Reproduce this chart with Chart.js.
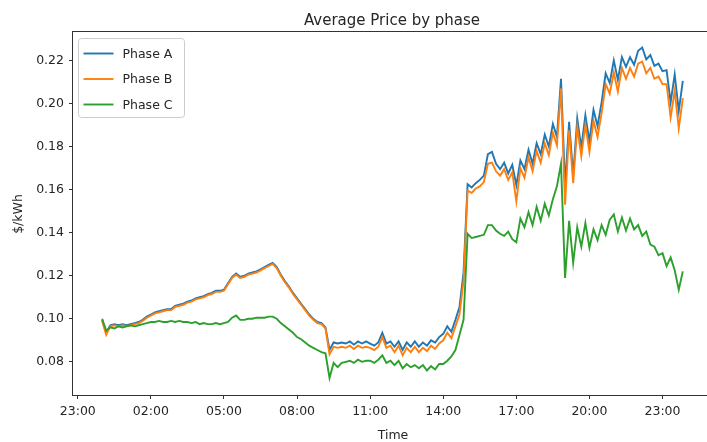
<!DOCTYPE html>
<html>
<head>
<meta charset="utf-8">
<script src="https://cdn.jsdelivr.net/npm/chart.js@4/dist/chart.umd.min.js"></script>
<style>
  html, body { margin: 0; padding: 0; background: #fff; overflow: hidden; width: 707px; height: 442px; }
  canvas { display: block; }
</style>
</head>
<body>
<canvas id="c" width="714" height="442"></canvas>
<script>
// Average price per phase, sampled every 10 minutes from 00:00 to 23:50 ($/kWh)
const STEP_MIN = 10;

const phaseA = [
  .0995, .0935, .097, .0975, .097, .0975,
  .097, .0975, .098, .0985, .0995, .101,
  .102, .103, .1035, .104, .1045, .1045,
  .106, .1065, .107, .108, .1085, .1095,
  .110, .1105, .1115, .112, .113, .113,
  .1135, .1165, .1195, .121, .1195, .120,
  .121, .1215, .122, .123, .124, .125,
  .126, .124, .1205, .1175, .115, .112,
  .1095, .107, .1045, .102, .100, .0985,
  .098, .096, .0855, .089, .0885, .089,
  .0885, .0895, .088, .0895, .0885, .0895,
  .0885, .0875, .089, .0935, .0885, .0895,
  .087, .0895, .0855, .089, .087, .0895,
  .087, .089, .0875, .090, .089, .0915,
  .093, .0965, .094, .0995, .1055, .1215,
  .1625, .161, .163, .1645, .1665, .1765,
  .1775, .172, .1695, .1725, .1675, .1715,
  .162, .1735, .1695, .1785, .172, .1815,
  .1765, .1855, .180, .1905, .1845, .2115,
  .162, .1915, .1665, .193, .1795, .1945,
  .1825, .197, .1895, .2005, .214, .2095,
  .220, .211, .2215, .217, .2215, .218,
  .2245, .226, .2205, .2225, .2175, .2185,
  .215, .2155, .2005, .2135, .1965, .2105
];

const phaseB = [
  .099, .0925, .0965, .097, .0965, .097,
  .0965, .097, .0975, .098, .099, .1005,
  .1015, .1025, .103, .1035, .104, .104,
  .1055, .106, .1065, .1075, .108, .109,
  .1095, .110, .111, .1115, .1125, .1125,
  .113, .116, .119, .1205, .119, .1195,
  .1205, .121, .1215, .1225, .1235, .1245,
  .1255, .1235, .120, .117, .1145, .1115,
  .109, .1065, .104, .1015, .0995, .098,
  .0975, .0955, .0835, .087, .0865, .087,
  .0865, .0875, .086, .0875, .0865, .087,
  .0865, .0855, .087, .0915, .0865, .0875,
  .0845, .0875, .083, .0865, .0845, .087,
  .0845, .0865, .085, .0875, .086, .0885,
  .090, .0935, .091, .0965, .102, .1175,
  .1595, .1585, .1605, .1615, .1635, .172,
  .1725, .1685, .1665, .1695, .1645, .168,
  .1545, .170, .1655, .175, .1685, .178,
  .1725, .1815, .176, .1865, .1805, .207,
  .153, .1875, .163, .189, .1755, .190,
  .1775, .192, .1845, .1955, .209, .2045,
  .2145, .2055, .2165, .2115, .2165, .2125,
  .2185, .2195, .214, .2165, .2115, .2125,
  .209, .209, .1935, .206, .1885, .2025
];

const phaseC = [
  .100, .0945, .096, .0955, .0965, .096,
  .0965, .097, .0965, .097, .0975, .098,
  .0985, .0985, .099, .0985, .0985, .099,
  .0985, .099, .0985, .0985, .098, .0985,
  .0975, .098, .0975, .0975, .098, .0975,
  .098, .0985, .1005, .1015, .0995, .0995,
  .100, .100, .1005, .1005, .1005, .101,
  .101, .100, .098, .0965, .095, .0935,
  .0915, .0905, .089, .0875, .0865, .0855,
  .0845, .084, .0725, .0795, .0775, .0795,
  .080, .0805, .0795, .081, .080, .0805,
  .0805, .0795, .081, .083, .0795, .0805,
  .0785, .0805, .077, .079, .0775, .0785,
  .077, .0785, .076, .078, .0765, .079,
  .079, .0805, .0825, .0855, .0925, .0995,
  .1395, .1375, .138, .1385, .139, .1435,
  .1435, .141, .1395, .1385, .1405, .137,
  .1355, .1465, .1425, .1495, .1435, .152,
  .1455, .1535, .148, .1555, .1615, .172,
  .119, .1455, .126, .1425, .1335, .1445,
  .133, .1415, .1365, .1435, .139, .146,
  .1485, .1405, .147, .141, .1465, .1415,
  .1435, .1385, .1405, .1345, .1335, .1295,
  .1305, .1245, .1285, .1225, .1135, .122
];

// Hour positions of the tick labels (-1 = 23:00 of the previous day)
const xTickHours = [-1, 2, 5, 8, 11, 14, 17, 20, 23];
const yTickValues = [0.08, 0.10, 0.12, 0.14, 0.16, 0.18, 0.20, 0.22];

const seriesNames = ['Phase A', 'Phase B', 'Phase C'];
const seriesColors = ['#1f77b4', '#ff7f0e', '#2ca02c'];

const FONT = '"DejaVu Sans", Verdana, sans-serif';
const TEXT = '#262626';

const hours = phaseA.map((_, i) => i * STEP_MIN / 60);
const toPoints = vals => vals.map((v, i) => ({ x: hours[i], y: v }));

const fmtHour = h => String(((h % 24) + 24) % 24).padStart(2, '0') + ':00';

const framePlugin = {
  id: 'frame',
  afterDatasetsDraw(chart) {
    const { ctx, chartArea: a } = chart;
    ctx.save();
    ctx.strokeStyle = '#333';
    ctx.lineWidth = 1;
    ctx.strokeRect(Math.round(a.left) - 0.5, Math.round(a.top) - 0.5,
                   Math.round(a.right - a.left) + 1, Math.round(a.bottom - a.top) + 1);
    ctx.restore();
  }
};

const labelsPlugin = {
  id: 'labels',
  afterDraw(chart) {
    const { ctx } = chart;
    ctx.save();
    ctx.fillStyle = TEXT;
    // title
    ctx.font = '15px ' + FONT;
    ctx.textAlign = 'center';
    ctx.textBaseline = 'alphabetic';
    ctx.fillText('Average Price by phase', 392, 25);
    // axis titles
    ctx.font = '12.5px ' + FONT;
    ctx.fillText('Time', 393, 439);
    ctx.translate(22, 214);
    ctx.rotate(-Math.PI / 2);
    ctx.fillText('$/kWh', 0, 0);
    ctx.restore();

    // legend box in the upper-left corner of the plot
    ctx.save();
    const bx = 78.5, by = 38.5, bw = 106, bh = 79, r = 3;
    ctx.beginPath();
    ctx.moveTo(bx + r, by);
    ctx.arcTo(bx + bw, by, bx + bw, by + bh, r);
    ctx.arcTo(bx + bw, by + bh, bx, by + bh, r);
    ctx.arcTo(bx, by + bh, bx, by, r);
    ctx.arcTo(bx, by, bx + bw, by, r);
    ctx.closePath();
    ctx.fillStyle = 'rgba(255,255,255,0.8)';
    ctx.fill();
    ctx.strokeStyle = '#cccccc';
    ctx.lineWidth = 1;
    ctx.stroke();
    ctx.font = '12.5px ' + FONT;
    ctx.textAlign = 'left';
    ctx.textBaseline = 'middle';
    seriesNames.forEach((name, i) => {
      const y = 53.5 + i * 25.5;
      ctx.beginPath();
      ctx.moveTo(83.5, y);
      ctx.lineTo(113.5, y);
      ctx.strokeStyle = seriesColors[i];
      ctx.lineWidth = 1.9;
      ctx.stroke();
      ctx.fillStyle = TEXT;
      ctx.fillText(name, 122.5, y + 1);
    });
    ctx.restore();
  }
};

const makeSet = (i, vals) => ({
  label: seriesNames[i],
  data: toPoints(vals),
  borderColor: seriesColors[i],
  backgroundColor: seriesColors[i],
  borderWidth: 1.9,
  pointRadius: 0,
  tension: 0,
  fill: false,
  order: 3 - i
});

new Chart(document.getElementById('c'), {
  type: 'line',
  data: {
    datasets: [makeSet(0, phaseA), makeSet(1, phaseB), makeSet(2, phaseC)]
  },
  options: {
    responsive: false,
    animation: false,
    layout: { padding: { top: 32, left: 0, right: 0, bottom: 0 } },
    plugins: {
      legend: { display: false },
      title: { display: false },
      tooltip: { enabled: false }
    },
    scales: {
      x: {
        type: 'linear',
        min: -1.196,
        max: 25.113,
        afterBuildTicks: s => { s.ticks = xTickHours.map(v => ({ value: v })); },
        afterFit: s => { s.height = 47; },
        border: { display: false },
        grid: { drawOnChartArea: false, tickLength: 4, color: '#333', lineWidth: 1 },
        ticks: {
          callback: v => fmtHour(v),
          font: { family: FONT, size: 12.5 },
          color: TEXT,
          padding: 5,
          maxRotation: 0,
          autoSkip: false
        }
      },
      y: {
        type: 'linear',
        min: 0.0646,
        max: 0.2332,
        afterBuildTicks: s => { s.ticks = yTickValues.map(v => ({ value: v })); },
        afterFit: s => { s.width = 73; },
        border: { display: false },
        grid: { drawOnChartArea: false, tickLength: 4, color: '#333', lineWidth: 1 },
        ticks: {
          callback: v => v.toFixed(2),
          font: { family: FONT, size: 12.5 },
          color: TEXT,
          padding: 5
        }
      }
    }
  },
  plugins: [framePlugin, labelsPlugin]
});
</script>
</body>
</html>
